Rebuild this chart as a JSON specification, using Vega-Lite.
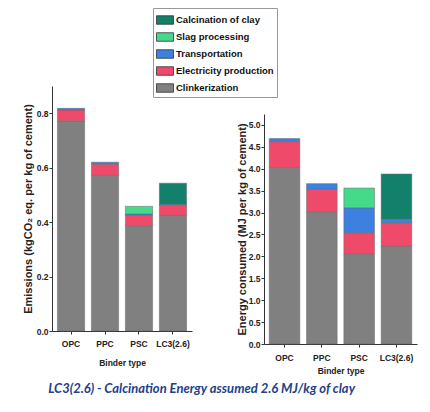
{
  "$schema": "https://vega.github.io/schema/vega-lite/v6.json",
  "background": "white",
  "padding": {"left": 22, "top": 7, "right": 8, "bottom": 10},
  "datasets": {
    "em": [
      {"binder": "OPC", "component": "Clinkerization", "k": 1, "value": 0.772},
      {"binder": "OPC", "component": "Electricity production", "k": 2, "value": 0.040},
      {"binder": "OPC", "component": "Transportation", "k": 3, "value": 0.006},
      {"binder": "PPC", "component": "Clinkerization", "k": 1, "value": 0.572},
      {"binder": "PPC", "component": "Electricity production", "k": 2, "value": 0.041},
      {"binder": "PPC", "component": "Transportation", "k": 3, "value": 0.007},
      {"binder": "PSC", "component": "Clinkerization", "k": 1, "value": 0.387},
      {"binder": "PSC", "component": "Electricity production", "k": 2, "value": 0.038},
      {"binder": "PSC", "component": "Transportation", "k": 3, "value": 0.005},
      {"binder": "PSC", "component": "Slag processing", "k": 4, "value": 0.028},
      {"binder": "LC3(2.6)", "component": "Clinkerization", "k": 1, "value": 0.425},
      {"binder": "LC3(2.6)", "component": "Electricity production", "k": 2, "value": 0.037},
      {"binder": "LC3(2.6)", "component": "Transportation", "k": 3, "value": 0.004},
      {"binder": "LC3(2.6)", "component": "Calcination of clay", "k": 5, "value": 0.077}
    ],
    "en": [
      {"binder": "OPC", "component": "Clinkerization", "k": 1, "value": 4.03},
      {"binder": "OPC", "component": "Electricity production", "k": 2, "value": 0.59},
      {"binder": "OPC", "component": "Transportation", "k": 3, "value": 0.07},
      {"binder": "PPC", "component": "Clinkerization", "k": 1, "value": 3.02},
      {"binder": "PPC", "component": "Electricity production", "k": 2, "value": 0.51},
      {"binder": "PPC", "component": "Transportation", "k": 3, "value": 0.13},
      {"binder": "PSC", "component": "Clinkerization", "k": 1, "value": 2.05},
      {"binder": "PSC", "component": "Electricity production", "k": 2, "value": 0.49},
      {"binder": "PSC", "component": "Transportation", "k": 3, "value": 0.57},
      {"binder": "PSC", "component": "Slag processing", "k": 4, "value": 0.45},
      {"binder": "LC3(2.6)", "component": "Clinkerization", "k": 1, "value": 2.23},
      {"binder": "LC3(2.6)", "component": "Electricity production", "k": 2, "value": 0.54},
      {"binder": "LC3(2.6)", "component": "Transportation", "k": 3, "value": 0.08},
      {"binder": "LC3(2.6)", "component": "Calcination of clay", "k": 5, "value": 1.03}
    ]
  },
  "config": {
    "view": {"stroke": null},
    "font": "Liberation Sans",
    "axis": {
      "grid": false,
      "domainColor": "#333",
      "tickColor": "#333",
      "labelColor": "#222",
      "titleColor": "#222",
      "labelFont": "Liberation Sans",
      "labelFontWeight": "bold",
      "labelFontSize": 8.5,
      "titleFont": "Liberation Sans",
      "titleFontWeight": "bold",
      "tickSize": 3
    },
    "legend": {
      "title": null,
      "strokeColor": "#999",
      "fillColor": "white",
      "padding": 3,
      "labelFont": "Liberation Sans",
      "labelFontWeight": "bold",
      "labelFontSize": 9.5,
      "labelColor": "#111",
      "symbolType": "M-1,-0.5H1V0.5H-1Z",
      "symbolSize": 289,
      "symbolStrokeColor": "#333",
      "symbolStrokeWidth": 0.8,
      "rowPadding": 2,
      "labelOffset": 2
    }
  },
  "title": {
    "text": "LC3(2.6) - Calcination Energy assumed 2.6 MJ/kg of clay",
    "orient": "bottom",
    "anchor": "start",
    "dx": 26,
    "offset": 8,
    "font": "Lato",
    "fontStyle": "italic",
    "fontWeight": "bold",
    "fontSize": 13,
    "color": "#22408a"
  },
  "spacing": 44,
  "hconcat": [
    {
      "width": 140,
      "height": 245,
      "data": {"name": "em"},
      "mark": {"type": "bar", "stroke": "#666", "strokeWidth": 0.5},
      "encoding": {
        "x": {
          "field": "binder", "type": "nominal",
          "sort": ["OPC", "PPC", "PSC", "LC3(2.6)"],
          "scale": {"paddingInner": 0.2, "paddingOuter": 0.16},
          "title": "Binder type",
          "axis": {"labelAngle": 0, "labelPadding": 5, "titleFontSize": 8.5, "titlePadding": 11}
        },
        "y": {
          "field": "value", "type": "quantitative", "stack": "zero",
          "scale": {"domain": [0, 0.9], "nice": false},
          "title": "Emissions (kgCO₂ eq. per kg of cement)",
          "axis": {"values": [0, 0.2, 0.4, 0.6, 0.8], "format": ".1f", "titleFontSize": 11, "labelPadding": 1, "titlePadding": 3}
        },
        "color": {
          "field": "component", "type": "nominal",
          "scale": {
            "domain": ["Calcination of clay", "Slag processing", "Transportation", "Electricity production", "Clinkerization"],
            "range": ["#12806a", "#45d98a", "#3c80e0", "#f04a6a", "#808080"]
          },
          "legend": {"orient": "none", "legendX": 101, "legendY": -78}
        },
        "order": {"field": "k", "type": "quantitative", "sort": "ascending"}
      }
    },
    {
      "spacing": 0,
      "vconcat": [
        {
          "width": 153,
          "height": 28,
          "data": {"values": []},
          "mark": "point",
          "encoding": {}
        },
        {
          "width": 153,
          "height": 230,
          "data": {"name": "en"},
          "mark": {"type": "bar", "stroke": "#666", "strokeWidth": 0.5},
          "encoding": {
            "x": {
              "field": "binder", "type": "nominal",
              "sort": ["OPC", "PPC", "PSC", "LC3(2.6)"],
              "scale": {"paddingInner": 0.18, "paddingOuter": 0.14},
              "title": "Binder type",
              "axis": {"labelAngle": 0, "labelPadding": 6, "titleFontSize": 8.5, "titlePadding": 5}
            },
            "y": {
              "field": "value", "type": "quantitative", "stack": "zero",
              "scale": {"domain": [0, 5.25], "nice": false},
              "title": "Energy consumed (MJ per kg of cement)",
              "axis": {"values": [0, 0.5, 1, 1.5, 2, 2.5, 3, 3.5, 4, 4.5, 5], "format": ".1f", "titleFontSize": 11, "labelPadding": 1, "titlePadding": 1}
            },
            "color": {
              "field": "component", "type": "nominal",
              "scale": {
                "domain": ["Calcination of clay", "Slag processing", "Transportation", "Electricity production", "Clinkerization"],
                "range": ["#12806a", "#45d98a", "#3c80e0", "#f04a6a", "#808080"]
              },
              "legend": {"orient": "none", "legendX": 101, "legendY": -78}
            },
            "order": {"field": "k", "type": "quantitative", "sort": "ascending"}
          }
        }
      ]
    }
  ]
}
